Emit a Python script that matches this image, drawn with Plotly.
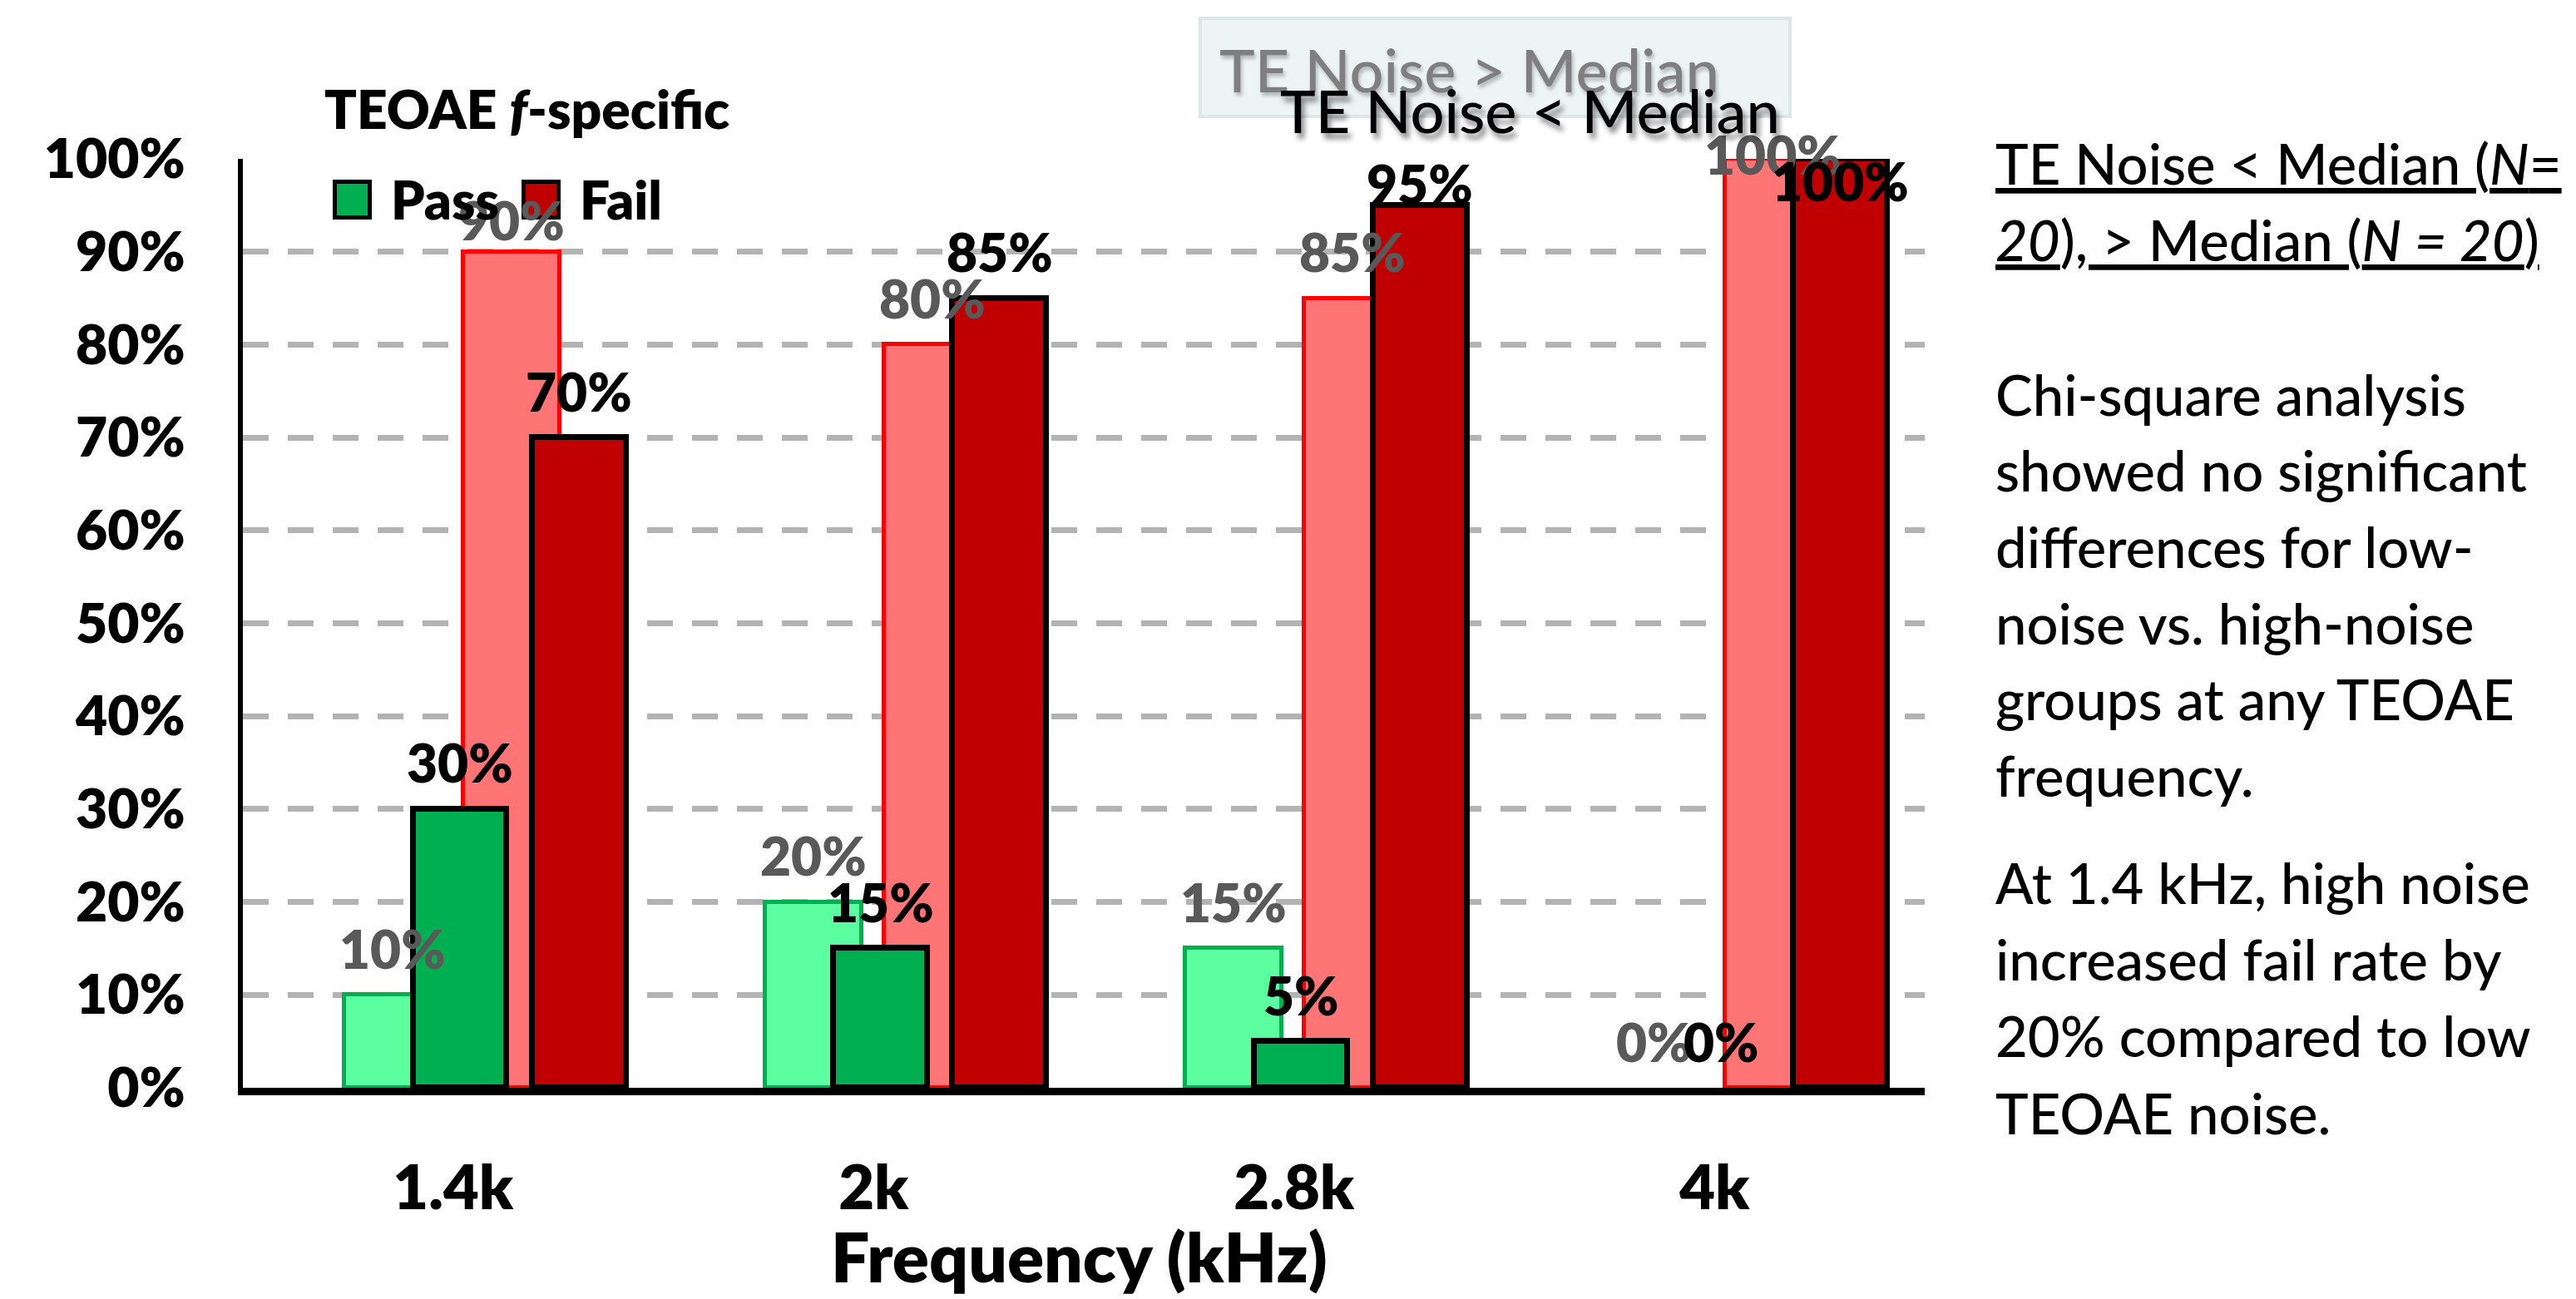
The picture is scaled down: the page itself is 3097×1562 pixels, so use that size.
import plotly.graph_objects as go

# ---- data -------------------------------------------------------------
freqs = ["1.4k", "2k", "2.8k", "4k"]

# TE noise above the median (light bars, behind)
high_pass = [10, 20, 15, 0]
high_fail = [90, 80, 85, 100]

# TE noise below the median (dark bars, in front)
low_pass = [30, 15, 5, 0]
low_fail = [70, 85, 95, 100]

y_ticks = [0, 10, 20, 30, 40, 50, 60, 70, 80, 90, 100]

# ---- page geometry (pixels) ------------------------------------------
FIG_W, FIG_H = 3097, 1562
PLOT_L, PLOT_R, PLOT_T, PLOT_B = 292, 2314, 191, 1308


def px_x(px):
    return (px - PLOT_L) / (PLOT_R - PLOT_L)


def px_y(py):
    return (PLOT_B - py) / (PLOT_B - PLOT_T)


FONT = "Lato, 'Open Sans', sans-serif"
HEAVY = 800
TEXT_W = 500

# label lift above each bar top, in pixels
light_pass_lift = [56, 56, 56, 56]
light_fail_lift = [38, 56, 56, 6]
dark_pass_lift = [56, 56, 56, 56]
dark_fail_lift = [56, 56, 26, -26]

series = [
    # values, fill, outline, outline width, offset, width, label colour, lifts
    (high_pass, "#5CFFA0", "#00B050", 5, -0.258, 0.229, "#595959", light_pass_lift),
    (high_fail, "#FF7575", "#FF0000", 5, 0.025, 0.229, "#595959", light_fail_lift),
    (low_pass, "#00B050", "#000000", 7, -0.095, 0.223, "#000000", dark_pass_lift),
    (low_fail, "#C00000", "#000000", 7, 0.188, 0.223, "#000000", dark_fail_lift),
]

fig = go.Figure()
annotations = []

for vals, fill, edge, lw, off, wid, lab_col, lifts in series:
    fig.add_trace(go.Bar(
        x=freqs, y=vals,
        offset=off, width=wid,
        # empty bars get no outline so nothing is drawn for them
        marker=dict(color=fill,
                    line=dict(color=edge, width=[lw if v > 0 else 0 for v in vals])),
        hoverinfo="skip", showlegend=False,
    ))
    for i, v in enumerate(vals):
        annotations.append(dict(
            x=i + off + wid / 2, y=v, xref="x", yref="y",
            text=f"{v}%", showarrow=False,
            xanchor="center", yanchor="middle", yshift=lifts[i],
            font=dict(family=FONT, size=64, color=lab_col, weight=HEAVY),
        ))

# ---- chart title and hand-built legend -------------------------------
annotations.append(dict(
    x=px_x(633), y=px_y(130), xref="paper", yref="paper",
    text="TEOAE <i>f</i>-specific", showarrow=False,
    xanchor="center", yanchor="middle",
    font=dict(family=FONT, size=64, color="black", weight=HEAVY),
))

legend_items = [("Pass", "#00B050", 400, 468), ("Fail", "#C00000", 627, 695)]
shapes = []
for name, col, sq_x, txt_x in legend_items:
    shapes.append(dict(
        type="rect", xref="paper", yref="paper",
        x0=px_x(sq_x + 2.5), x1=px_x(sq_x + 44.5),
        y0=px_y(261.5), y1=px_y(218.5),
        fillcolor=col, line=dict(color="black", width=5), layer="above",
    ))
    annotations.append(dict(
        x=px_x(txt_x), y=px_y(240), xref="paper", yref="paper",
        text=name, showarrow=False, xanchor="left", yanchor="middle",
        font=dict(family=FONT, size=64, color="black", weight=HEAVY),
    ))

# ---- group key box ----------------------------------------------------
shapes.append(dict(
    type="rect", xref="paper", yref="paper",
    x0=px_x(1443), x1=px_x(2152), y0=px_y(140), y1=px_y(22),
    fillcolor="#EDF4F4", line=dict(color="#DCE8E8", width=4), layer="above",
))
annotations.append(dict(
    x=px_x(1766), y=px_y(83), xref="paper", yref="paper",
    text="TE Noise > Median", showarrow=False,
    xanchor="center", yanchor="middle",
    font=dict(family=FONT, size=72, color="#7F7F7F", weight=TEXT_W,
              shadow="2px 4px 4px rgba(0,0,0,0.25)"),
))
annotations.append(dict(
    x=px_x(1839), y=px_y(132), xref="paper", yref="paper",
    text="TE Noise < Median", showarrow=False,
    xanchor="center", yanchor="middle",
    font=dict(family=FONT, size=72, color="black", weight=TEXT_W,
              shadow="4px 7px 6px rgba(0,0,0,0.45)"),
))

# ---- x axis title -----------------------------------------------------
annotations.append(dict(
    x=px_x(1297), y=px_y(1510), xref="paper", yref="paper",
    text="Frequency (kHz)", showarrow=False,
    xanchor="center", yanchor="middle",
    font=dict(family=FONT, size=82, color="black", weight=HEAVY),
))

# ---- side notes -------------------------------------------------------
note_x = px_x(2397)
heading_lines = [
    ("TE Noise < Median (<i>N</i>=", 196),
    ("<i>20</i>), > Median (<i>N = 20</i>)", 288),
]
for txt, cy in heading_lines:
    annotations.append(dict(
        x=note_x, y=px_y(cy), xref="paper", yref="paper",
        text=txt, showarrow=False, xanchor="left", yanchor="middle",
        font=dict(family=FONT, size=67, color="black", weight=TEXT_W,
                  lineposition="under"),
    ))

body_lines = [
    ("Chi-square analysis", 474),
    ("showed no significant", 565),
    ("differences for low-", 657),
    ("noise vs. high-noise", 749),
    ("groups at any TEOAE", 840),
    ("frequency.", 932),
    ("At 1.4 kHz, high noise", 1061),
    ("increased fail rate by", 1153),
    ("20% compared to low", 1245),
    ("TEOAE noise.", 1338),
]
for txt, cy in body_lines:
    annotations.append(dict(
        x=note_x, y=px_y(cy), xref="paper", yref="paper",
        text=txt, showarrow=False, xanchor="left", yanchor="middle",
        font=dict(family=FONT, size=67, color="black", weight=TEXT_W),
    ))

fig.update_layout(
    width=FIG_W, height=FIG_H,
    margin=dict(l=PLOT_L, r=FIG_W - PLOT_R, t=PLOT_T, b=FIG_H - PLOT_B, pad=0),
    paper_bgcolor="white", plot_bgcolor="white",
    barmode="overlay", bargap=0,
    showlegend=False,
    font=dict(family=FONT, color="black"),
    annotations=annotations, shapes=shapes,
    xaxis=dict(
        type="category", range=[-0.5, 3.5],
        showline=True, linecolor="black", linewidth=9,
        showgrid=False, zeroline=False, ticks="",
        tickfont=dict(family=FONT, size=74, color="black", weight=HEAVY),
        ticklabelstandoff=48,
    ),
    yaxis=dict(
        range=[0, 100], tickmode="array", tickvals=y_ticks,
        ticktext=[f"{v}%" for v in y_ticks],
        showline=True, linecolor="black", linewidth=6,
        showgrid=False, zeroline=False, ticks="",
        tickfont=dict(family=FONT, size=66, color="black", weight=HEAVY),
        ticklabelstandoff=50,
        minor=dict(
            tickmode="array", tickvals=y_ticks[1:], ticks="",
            showgrid=True, gridcolor="#B3B3B3", gridwidth=7,
            griddash="31px,23px",
        ),
    ),
)

fig.write_html("out.html")
